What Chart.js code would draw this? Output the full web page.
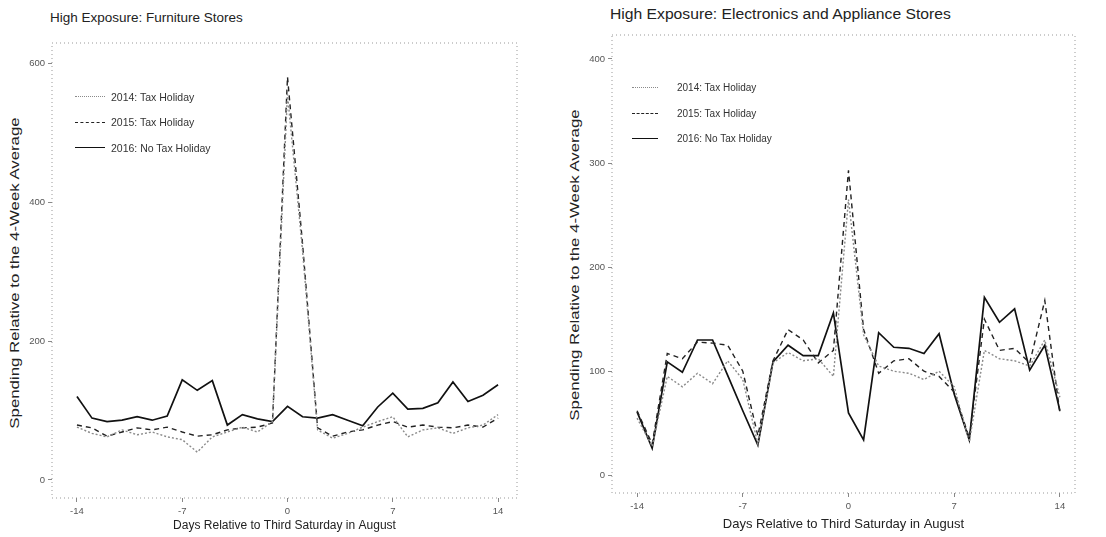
<!DOCTYPE html>
<html>
<head>
<meta charset="utf-8">
<script src="https://cdn.jsdelivr.net/npm/chart.js@4.4.1/dist/chart.umd.min.js"></script>
<style>
body{margin:0;background:#fff;width:1106px;height:537px;position:relative;overflow:hidden;font-family:"Liberation Sans",Arial,sans-serif}
canvas{position:absolute;top:0}
#cL{left:0}
#cR{left:550px}
.ttl{position:absolute;color:#222;white-space:nowrap;transform-origin:0 50%}
.ytl{position:absolute;color:#222;white-space:nowrap;font-size:12px;width:300px;text-align:center;margin-left:-150px;margin-top:-7px;line-height:14px}
.leg{position:absolute;color:#333}
.leg div{height:25.5px;display:flex;align-items:center;white-space:nowrap}
.leg span{display:inline-block}
</style>
</head>
<body>
<div class="ttl" style="left:50px;top:10px;font-size:13.5px">High Exposure: Furniture Stores</div>
<div class="ttl" style="left:610px;top:6px;font-size:14px;transform:scaleX(1.12)">High Exposure: Electronics and Appliance Stores</div>
<div class="ytl" style="left:15px;top:273px;transform:rotate(-90deg) scaleX(1.4)">Spending Relative to the 4-Week Average</div>
<div class="ytl" style="left:575px;top:265px;transform:rotate(-90deg) scaleX(1.4)">Spending Relative to the 4-Week Average</div>
<canvas id="cL" width="550" height="537"></canvas>
<canvas id="cR" width="556" height="537"></canvas>
<div class="leg" id="legL" style="left:75px;top:84px;font-size:10.5px"></div>
<div class="leg" id="legR" style="left:632px;top:75px;font-size:10px"></div>
<script>
// days relative to third Saturday in August
var days = [-14,-13,-12,-11,-10,-9,-8,-7,-6,-5,-4,-3,-2,-1,0,1,2,3,4,5,6,7,8,9,10,11,12,13,14];
var xTicks = [-14, -7, 0, 7, 14];
var seriesNames = ["2014: Tax Holiday", "2015: Tax Holiday", "2016: No Tax Holiday"];

// furniture stores
var furn2014 = [76,67,62,72,65,69,62,58,40,62,69,76,69,84,555,330,72,60,67,76,84,91,62,72,75,67,75,79,94];
var furn2015 = [79,75,63,69,75,72,76,69,63,65,72,75,76,82,580,340,75,63,69,72,79,84,76,79,76,75,79,76,89];
var furn2016 = [120,89,84,86,91,86,92,144,129,143,79,94,88,84,106,91,89,94,86,78,105,125,102,103,111,141,113,122,137];
var furnYTicks = [0, 200, 400, 600];

// electronics and appliance stores
var elec2014 = [55,28,95,85,98,88,110,92,30,108,118,110,112,95,265,135,105,100,98,92,100,85,32,120,112,110,105,130,75];
var elec2015 = [62,30,117,112,128,127,125,100,38,110,140,130,108,120,293,140,98,110,112,100,95,80,36,150,120,122,108,168,60];
var elec2016 = [61,26,109,99,130,130,96,62,29,109,125,115,115,156,60,34,137,123,122,117,136,78,34,171,147,160,101,125,62];
var elecYTicks = [0, 100, 200, 300, 400];

var styles = [
  {color: '#8a8a8a', dash: [2, 2], width: 1.4},
  {color: '#222', dash: [5, 4], width: 1.4},
  {color: '#111', dash: [], width: 1.7}
];

var frame = {
  id: 'frame',
  beforeDraw: function(c) {
    var a = c.chartArea, ctx = c.ctx;
    ctx.save();
    ctx.strokeStyle = '#999';
    ctx.lineWidth = 1;
    ctx.setLineDash([1, 3]);
    ctx.strokeRect(a.left, a.top, a.right - a.left, a.bottom - a.top);
    ctx.restore();
  }
};

function mkChart(id, vals, yTicks, yMin, yMax, xMin, xMax, pad, yW, xH, xtSize) {
  var sets = vals.map(function(v, i) {
    return {
      label: seriesNames[i],
      data: days.map(function(d, j) { return {x: d, y: v[j]}; }),
      borderColor: styles[i].color,
      borderDash: styles[i].dash,
      borderWidth: styles[i].width,
      pointRadius: 0,
      tension: 0,
      fill: false
    };
  });
  return new Chart(document.getElementById(id), {
    type: 'line',
    data: {datasets: sets},
    plugins: [frame],
    options: {
      responsive: false,
      animation: false,
      layout: {padding: pad},
      plugins: {legend: {display: false}, tooltip: {enabled: false}},
      scales: {
        x: {
          type: 'linear', min: xMin, max: xMax,
          afterBuildTicks: function(s) { s.ticks = xTicks.map(function(v) { return {value: v}; }); },
          afterFit: function(s) { s.height = xH; },
          grid: {drawOnChartArea: false, tickLength: 4, color: '#888'},
          border: {display: false},
          ticks: {font: {size: 9.5, family: 'Liberation Sans'}, color: '#555', padding: 4, maxRotation: 0},
          title: {display: true, text: 'Days Relative to Third Saturday in August',
                  font: {size: xtSize, family: 'Liberation Sans'}, color: '#222', padding: {top: 4, bottom: 4}}
        },
        y: {
          min: yMin, max: yMax,
          afterBuildTicks: function(s) { s.ticks = yTicks.map(function(v) { return {value: v}; }); },
          afterFit: function(s) { s.width = yW; },
          grid: {drawOnChartArea: false, tickLength: 4, color: '#888'},
          border: {display: false},
          ticks: {font: {size: 9.5, family: 'Liberation Sans'}, color: '#555', padding: 3}
        }
      }
    }
  });
}

mkChart('cL', [furn2014, furn2015, furn2016], furnYTicks, -26, 629, -15.66, 15.26,
        {left: 4, top: 43, right: 33, bottom: 0}, 48, 39, 12);
mkChart('cR', [elec2014, elec2015, elec2016], elecYTicks, -17, 423, -15.66, 15.0,
        {left: 14, top: 35, right: 31, bottom: 1}, 48, 43, 13);

function mkLegend(id, sw, gap) {
  var box = document.getElementById(id);
  seriesNames.forEach(function(n, i) {
    var row = document.createElement('div');
    var s = document.createElement('span');
    var st = styles[i].dash.length ? (styles[i].dash[0] > 3 ? 'dashed' : 'dotted') : 'solid';
    s.style.borderTop = styles[i].width + 'px ' + st + ' ' + styles[i].color;
    s.style.width = sw + 'px';
    s.style.marginRight = gap + 'px';
    row.appendChild(s);
    row.appendChild(document.createTextNode(n));
    box.appendChild(row);
  });
}
mkLegend('legL', 30, 6);
mkLegend('legR', 26, 19);
</script>
</body>
</html>
